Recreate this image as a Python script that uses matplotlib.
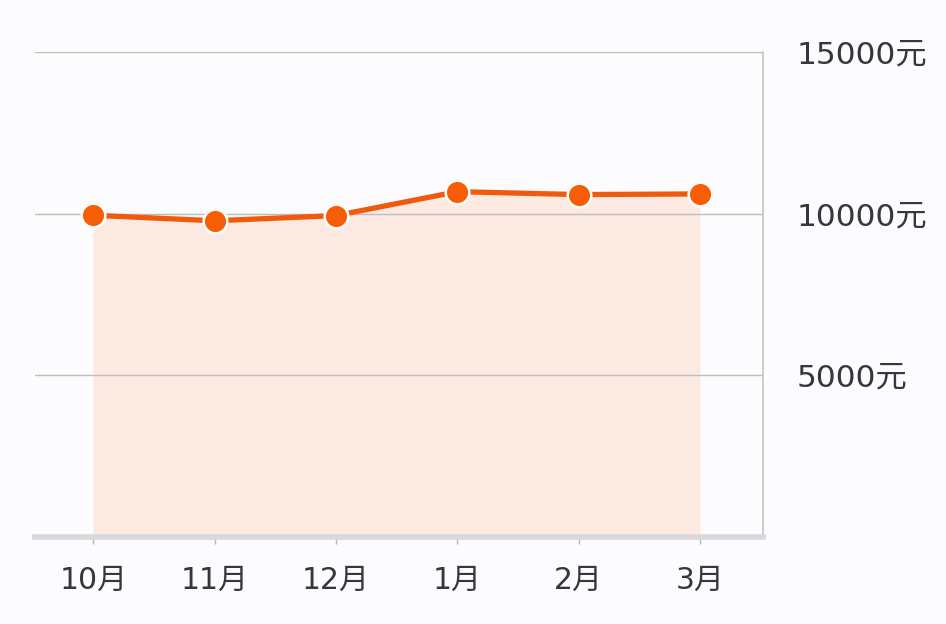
import matplotlib
matplotlib.use("Agg")
import matplotlib.pyplot as plt

months = ["10月", "11月", "12月", "1月", "2月", "3月"]
values = [9950, 9780, 9940, 10680, 10590, 10610]
yticks = [5000, 10000, 15000]
ytick_labels = ["5000元", "10000元", "15000元"]

plt.rcParams['font.family'] = ['DejaVu Sans', 'Noto Sans CJK SC']

fig = plt.figure(figsize=(9.46, 6.24), dpi=100)
fig.patch.set_facecolor('#fcfbfd')
ax = fig.add_axes([0.037, 0.1394, 0.7696, 0.7773])
ax.set_facecolor('#fcfbfd')

x = list(range(len(months)))
ax.fill_between(x, 0, values, color='#fbe9e2', zorder=1, linewidth=0)
ax.plot(x, values, color='#f05a0c', lw=3.8, zorder=3,
        marker='o', markersize=17, markerfacecolor='#f75d05',
        markeredgecolor='white', markeredgewidth=1.8)

ax.set_xlim(-0.48, 5.52)
ax.set_ylim(0, 15000)
ax.set_yticks(yticks)
ax.set_yticklabels(ytick_labels)
ax.yaxis.tick_right()
ax.tick_params(axis='y', length=0, pad=24, labelsize=22.5, labelcolor='#3a3342')
for lab in ax.get_yticklabels():
    lab.set_horizontalalignment('left')
ax.grid(axis='y', color='#bdbdbd', lw=1.0, zorder=0)
ax.set_xticks(x)
ax.set_xticklabels(months)
ax.tick_params(axis='x', length=5, width=1, color='#b8b8b8', pad=16,
               labelsize=21.5, labelcolor='#3a3342')

for s in ['left', 'top']:
    ax.spines[s].set_visible(False)
ax.spines['right'].set_color('#c6c6c6')
ax.spines['right'].set_linewidth(1.2)
ax.spines['bottom'].set_color('#d9d9dd')
ax.spines['bottom'].set_linewidth(4)

fig.savefig('out.png', dpi=100, facecolor=fig.get_facecolor())
